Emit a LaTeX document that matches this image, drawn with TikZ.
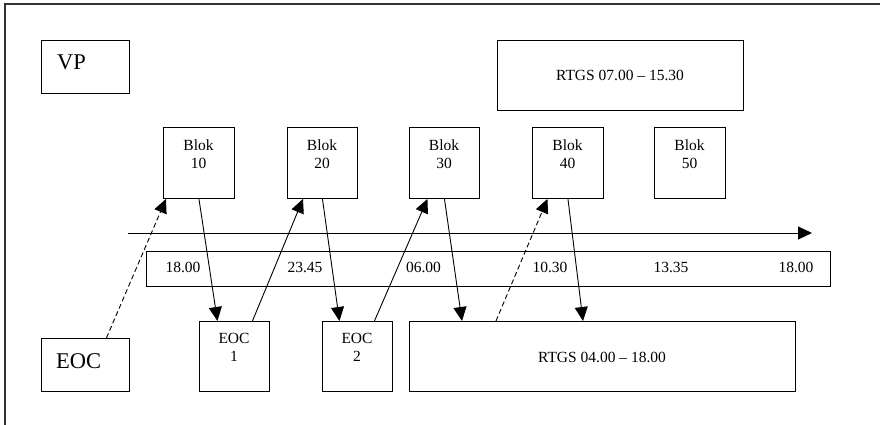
\documentclass[tikz,border=0pt]{standalone}
\usepackage{fontspec}
\setmainfont{Liberation Serif}
\usetikzlibrary{arrows.meta}
\begin{document}
\begin{tikzpicture}[x=1pt,y=-1pt,
  box/.style={draw, line width=0.9pt, inner sep=0pt, anchor=north west},
  sm/.style={font=\fontsize{15.5}{17.5}\selectfont, inner sep=0pt, align=center},
  big/.style={font=\fontsize{22.5}{26}\selectfont, inner sep=0pt},
  arr/.style={line width=0.9pt, -{Triangle[length=14pt,width=13pt]}},
  dsh/.style={arr, dash pattern=on 5pt off 3pt},
  frame/.style={line width=1.4pt, black!80}
]
\useasboundingbox (0,0) rectangle (880,425);
\draw[frame] (5,425) -- (5,4) -- (880,4);

% boxes
\node[box, minimum width=88pt, minimum height=53pt] (vp) at (41,40) {};
\node[box, minimum width=88pt, minimum height=53pt] (eoc) at (41,338) {};
\node[box, minimum width=71pt, minimum height=71pt] (b10) at (163,127) {};
\node[box, minimum width=70pt, minimum height=71pt] (b20) at (287,127) {};
\node[box, minimum width=70pt, minimum height=71pt] (b30) at (409,127) {};
\node[box, minimum width=71pt, minimum height=71pt] (b40) at (532,127) {};
\node[box, minimum width=71pt, minimum height=71pt] (b50) at (654,127) {};
\node[box, minimum width=246pt, minimum height=70pt] (rt) at (497,40) {};
\node[box, minimum width=684pt, minimum height=35pt] (tb) at (146,251) {};
\node[box, minimum width=70pt, minimum height=70pt] (e1) at (199,321) {};
\node[box, minimum width=70pt, minimum height=70pt] (e2) at (322,321) {};
\node[box, minimum width=386pt, minimum height=70pt] (rb) at (409,321) {};

% texts
\node[big, anchor=base west] (vpt) at (57,70) {VP};
\node[big, anchor=base west] (eoct) at (56,368) {EOC};
\node[sm, anchor=base] (b10t) at (198.5,168) {Blok\\10};
\node[sm, anchor=base] (b20t) at (322,168) {Blok\\20};
\node[sm, anchor=base] (b30t) at (444,168) {Blok\\30};
\node[sm, anchor=base] (b40t) at (567.5,168) {Blok\\40};
\node[sm, anchor=base] (b50t) at (689.5,168) {Blok\\50};
\node[sm, anchor=base] (e1t) at (234,361) {EOC\\1};
\node[sm, anchor=base] (e2t) at (357,361) {EOC\\2};
\node[sm, anchor=base] (rtt) at (620,81) {RTGS 07.00 \textendash{} 15.30};
\node[sm, anchor=base] (rbt) at (602,362) {RTGS 04.00 \textendash{} 18.00};
\node[sm, anchor=base] (t1) at (183,272) {18.00};
\node[sm, anchor=base] (t2) at (305,272) {23.45};
\node[sm, anchor=base] (t3) at (423.5,272) {06.00};
\node[sm, anchor=base] (t4) at (550,272) {10.30};
\node[sm, anchor=base] (t5) at (671,272) {13.35};
\node[sm, anchor=base] (t6) at (796,272) {18.00};

% timeline
\coordinate (tl0) at (128,233);
\coordinate (tl1) at (812,233);
\draw[arr] (tl0) -- (tl1);

% arrows
\draw[dsh] ([xshift=21pt]eoc.north) -- ([xshift=3pt]b10.south west);
\draw[arr] (b10.south) -- ([xshift=-17pt]e1.north);
\draw[arr] ([xshift=18pt]e1.north) -- ([xshift=16pt]b20.south west);
\draw[arr] (b20.south) -- ([xshift=-18pt]e2.north);
\draw[arr] ([xshift=17pt]e2.north) -- ([xshift=-17pt]b30.south);
\draw[arr] (b30.south) -- ([xshift=53pt]rb.north west);
\draw[dsh] ([xshift=87pt]rb.north west) -- ([xshift=-20.5pt]b40.south);
\draw[arr] (b40.south) -- ([xshift=174pt]rb.north west);
\end{tikzpicture}
\end{document}
